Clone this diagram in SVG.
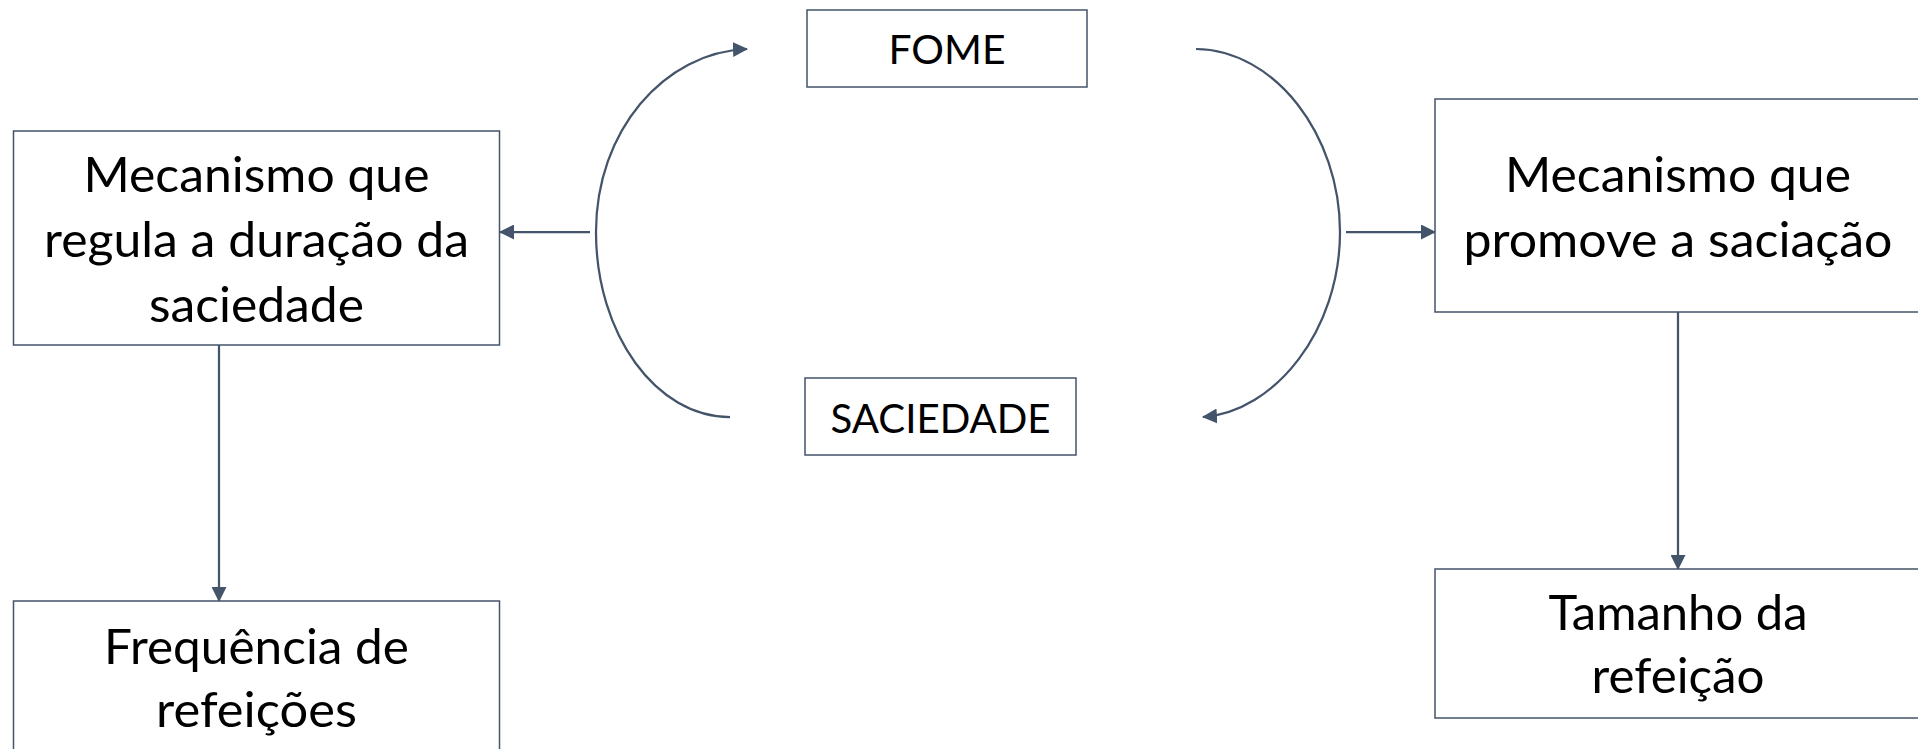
<svg xmlns="http://www.w3.org/2000/svg" width="1918" height="749" viewBox="0 0 1918 749">
<style>
.box{fill:#FFFFFF;stroke:#44546A;stroke-width:1.5}
.t{font-family:Lato,"Liberation Sans",sans-serif;font-size:49px;fill:#000000;text-anchor:middle}
.ts{font-family:Lato,"Liberation Sans",sans-serif;font-size:41px;fill:#000000;text-anchor:middle}
.c{fill:none;stroke:#44546A;stroke-width:2.25}
</style>
<defs>
<marker id="ah" markerUnits="userSpaceOnUse" markerWidth="15" markerHeight="15" viewBox="0 0 15 15" refX="14" refY="7.5" orient="auto">
<path d="M0,0 L15,7.5 L0,15 z" fill="#44546A"/>
</marker>
</defs>
<rect width="1918" height="749" fill="#FFFFFF"/>
<g id="connectors">
<path class="c" d="M730,417 C656,417 596,334 596,232 C596,131 664,52 747,49" marker-end="url(#ah)"/>
<path class="c" d="M1196,49 C1275,50 1340,135 1340,232 C1340,330 1275,412 1203,417" marker-end="url(#ah)"/>
<line class="c" x1="590" y1="232" x2="500" y2="232" marker-end="url(#ah)"/>
<line class="c" x1="1346" y1="232" x2="1435" y2="232" marker-end="url(#ah)"/>
<line class="c" x1="219" y1="345" x2="219" y2="601" marker-end="url(#ah)"/>
<line class="c" x1="1678" y1="312" x2="1678" y2="569" marker-end="url(#ah)"/>
</g>
<g id="node-fome">
<rect class="box" x="807" y="10" width="280" height="77"/>
<text class="ts" x="947" y="64" textLength="117" lengthAdjust="spacingAndGlyphs">FOME</text>
</g>
<g id="node-saciedade">
<rect class="box" x="805" y="378" width="271" height="77"/>
<text class="ts" x="940.5" y="433" textLength="220" lengthAdjust="spacingAndGlyphs">SACIEDADE</text>
</g>
<g id="node-duracao">
<rect class="box" x="13.5" y="131" width="486" height="214"/>
<text class="t" x="256.5" y="192" textLength="346" lengthAdjust="spacingAndGlyphs">Mecanismo que</text>
<text class="t" x="256.5" y="257" textLength="425" lengthAdjust="spacingAndGlyphs">regula a duração da</text>
<text class="t" x="256.5" y="322" textLength="215" lengthAdjust="spacingAndGlyphs">saciedade</text>
</g>
<g id="node-frequencia">
<rect class="box" x="13.5" y="601" width="486" height="214"/>
<text class="t" x="256.5" y="664" textLength="305" lengthAdjust="spacingAndGlyphs">Frequência de</text>
<text class="t" x="256.5" y="727" textLength="201" lengthAdjust="spacingAndGlyphs">refeições</text>
</g>
<g id="node-saciacao">
<rect class="box" x="1435" y="99" width="486" height="213"/>
<text class="t" x="1678" y="192" textLength="346" lengthAdjust="spacingAndGlyphs">Mecanismo que</text>
<text class="t" x="1678" y="257" textLength="429" lengthAdjust="spacingAndGlyphs">promove a saciação</text>
</g>
<g id="node-tamanho">
<rect class="box" x="1435" y="569" width="486" height="149"/>
<text class="t" x="1678" y="630" textLength="259" lengthAdjust="spacingAndGlyphs">Tamanho da</text>
<text class="t" x="1678" y="693" textLength="173" lengthAdjust="spacingAndGlyphs">refeição</text>
</g>
</svg>
